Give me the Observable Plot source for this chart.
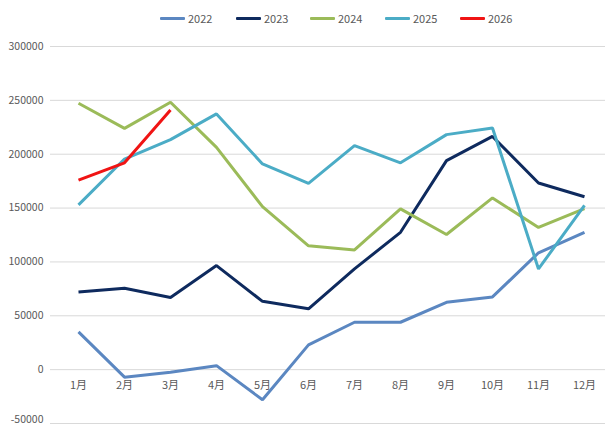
<!DOCTYPE html>
<html>
<head>
<meta charset="utf-8">
<script src="https://cdn.jsdelivr.net/npm/d3@7"></script>
<script src="https://cdn.jsdelivr.net/npm/@observablehq/plot@0.6"></script>
<style>
  html, body { margin: 0; padding: 0; background: #fff; overflow: hidden; }
  body { width: 605px; height: 425px; font-family: "Noto Sans CJK SC", "Noto Sans", sans-serif; }
  #legend { position: relative; height: 36px; }
  .item { position: absolute; top: 10px; display: flex; align-items: center; font-size: 11px; color: #595959; }
  .sw { width: 25px; height: 3px; margin-right: 3px; border-radius: 1px; }
</style>
</head>
<body>
<div id="legend"></div>
<div id="chart"></div>
<script>
const months = ["1月","2月","3月","4月","5月","6月","7月","8月","9月","10月","11月","12月"];
const years = ["2022","2023","2024","2025","2026"];
const colors = ["#5b87c1","#0e2a5e","#9bbb59","#4bacc6","#f01414"];
const yTicks = [-50000, 0, 50000, 100000, 150000, 200000, 250000, 300000];

const v2022 = [35000, -7000, -2500, 3700, -28000, 23000, 44000, 44000, 62500, 67500, 108500, 127500];
const v2023 = [72000, 75500, 67000, 96600, 63400, 56500, 93500, 127500, 194000, 216500, 173300, 160500];
const v2024 = [247300, 224000, 248200, 206400, 151300, 115000, 111100, 149200, 125500, 159400, 132000, 149500];
const v2025 = [153000, 195500, 213500, 237400, 191000, 173000, 208000, 192000, 218200, 224400, 93500, 152500];
const v2026 = [176000, 192000, 241000];

const series = [v2022, v2023, v2024, v2025, v2026];
const data = [];
series.forEach((vals, i) => vals.forEach((v, j) => data.push({year: years[i], month: months[j], value: v})));

// legend
const lg = document.getElementById("legend");
const lx = [160, 236, 310, 385, 460];
years.forEach((y, i) => {
  const d = document.createElement("div");
  d.className = "item";
  d.style.left = lx[i] + "px";
  d.innerHTML = `<span class="sw" style="background:${colors[i]}"></span><span>${y}</span>`;
  lg.appendChild(d);
});

const chart = Plot.plot({
  width: 605,
  height: 389,
  marginTop: 10,
  marginBottom: 2,
  marginLeft: 50,
  marginRight: 0,
  style: {fontFamily: '"Noto Sans CJK SC", "Noto Sans", sans-serif', fontSize: "10.5px", color: "#595959", background: "#fff"},
  x: {type: "point", domain: months, range: [73, 589], padding: 0, axis: null},
  y: {domain: [-50000, 300000], label: null, axis: null},
  color: {domain: years, range: colors},
  marks: [
    Plot.ruleY(yTicks, {stroke: "#d9d9d9", strokeWidth: 1}),
    Plot.axisY(yTicks.slice(1), {tickSize: 0, tickPadding: 7, tickFormat: d => String(d), label: null, fill: "#595959"}),
    Plot.axisY(yTicks.slice(0, 1), {tickSize: 0, tickPadding: 7, tickFormat: d => String(d), label: null, dy: -4, fill: "#595959"}),
    Plot.line(data, {x: "month", y: "value", z: "year", stroke: "year", strokeWidth: 3, strokeLinejoin: "miter", strokeLinecap: "butt"}),
    Plot.text(months, {x: d => d, y: 0, dy: 16, text: d => d, fill: "#595959", fontSize: 11})
  ]
});
document.getElementById("chart").appendChild(chart);
</script>
</body>
</html>
